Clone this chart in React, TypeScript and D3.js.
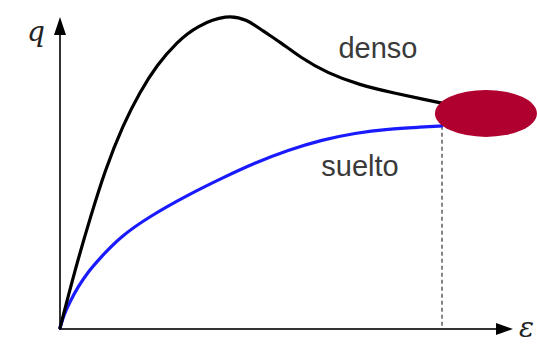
import React from 'react';
import * as d3 from 'd3';

// strain (arbitrary units) and deviator stress q
const densoStrain = [0, 0.39, 0.79, 1.18, 1.65, 2.09, 2.54, 3.06, 3.59, 4.37, 4.9, 5.31, 5.76, 6.28, 6.99, 7.85, 8.72, 9.61, 10];
const densoQ = [0, 1.86, 3.54, 5.08, 6.53, 7.59, 8.46, 9.2, 9.72, 10.08, 9.92, 9.55, 9.2, 8.71, 8.2, 7.81, 7.56, 7.33, 7.23];

const sueltoStrain = [0, 0.1, 0.26, 0.47, 0.73, 1.05, 1.57, 2.36, 3.35, 4.24, 5.1, 5.97, 6.86, 7.72, 8.59, 9.48, 10];
const sueltoQ = [0, 0.42, 0.84, 1.32, 1.8, 2.25, 2.93, 3.6, 4.28, 4.82, 5.31, 5.72, 6.05, 6.27, 6.4, 6.46, 6.5];

const curveLabels = ['denso', 'suelto'];
const axisLabels = ['q', 'ε'];

// end state marker (critical state)
const endStrain = 11.15;
const endQ = 6.9;

const W = 537;
const H = 345;

export default function App() {
  const x = d3.scaleLinear().domain([0, 10]).range([60, 442]);
  const y = d3.scaleLinear().domain([0, 10]).range([328, 17]);

  const line = d3.line<[number, number]>()
    .x(d => x(d[0]))
    .y(d => y(d[1]))
    .curve(d3.curveBasis);

  const denso = densoStrain.map((e, i) => [e, densoQ[i]] as [number, number]);
  const suelto = sueltoStrain.map((e, i) => [e, sueltoQ[i]] as [number, number]);

  const x0 = x(0), y0 = y(0);
  const xEnd = 513, yTop = 17;
  const axisColor = '#333';

  return (
    <svg width={W} height={H} style={{ position: 'absolute', left: 0, top: 0, background: '#fff' }}>
      {/* dashed drop line at the end of the test */}
      <line x1={x(10)} x2={x(10)} y1={y(sueltoQ[sueltoQ.length - 1])} y2={y0}
        stroke="#444" strokeWidth={1.3} strokeDasharray="4,3" />

      {/* axes */}
      <line x1={x0} x2={x0} y1={y0 + 1} y2={yTop + 14} stroke={axisColor} strokeWidth={2} />
      <path d={`M${x0},${yTop} L${x0 - 6},${yTop + 18} L${x0 + 6},${yTop + 18} Z`} fill="#000" />
      <line x1={x0 - 1} x2={xEnd - 14} y1={y0 + 1} y2={y0 + 1} stroke={axisColor} strokeWidth={2} />
      <path d={`M${xEnd},${y0 + 1} L${xEnd - 17},${y0 - 5} L${xEnd - 17},${y0 + 7} Z`} fill="#000" />

      {/* curves */}
      <path d={line(suelto) ?? ''} fill="none" stroke="#1a1aff" strokeWidth={3.2} strokeLinecap="round" />
      <path d={line(denso) ?? ''} fill="none" stroke="#000" strokeWidth={3.2} strokeLinecap="round" />

      <ellipse cx={x(endStrain)} cy={y(endQ)} rx={51} ry={23.5} fill="#b00030" />

      {/* labels */}
      <text x={378} y={58} textAnchor="middle" fontFamily="'Liberation Sans', Arial, sans-serif"
        fontSize={29} fill="#3a3a3a">{curveLabels[0]}</text>
      <text x={360} y={176} textAnchor="middle" fontFamily="'Liberation Sans', Arial, sans-serif"
        fontSize={29} fill="#3a3a3a">{curveLabels[1]}</text>
      <text x={27} y={41} fontFamily="'DejaVu Serif', serif" fontStyle="italic"
        fontSize={28} fill="#222">{axisLabels[0]}</text>
      <text x={519} y={337} fontFamily="'DejaVu Serif', serif" fontStyle="italic"
        fontSize={28} fill="#222">{axisLabels[1]}</text>
    </svg>
  );
}
